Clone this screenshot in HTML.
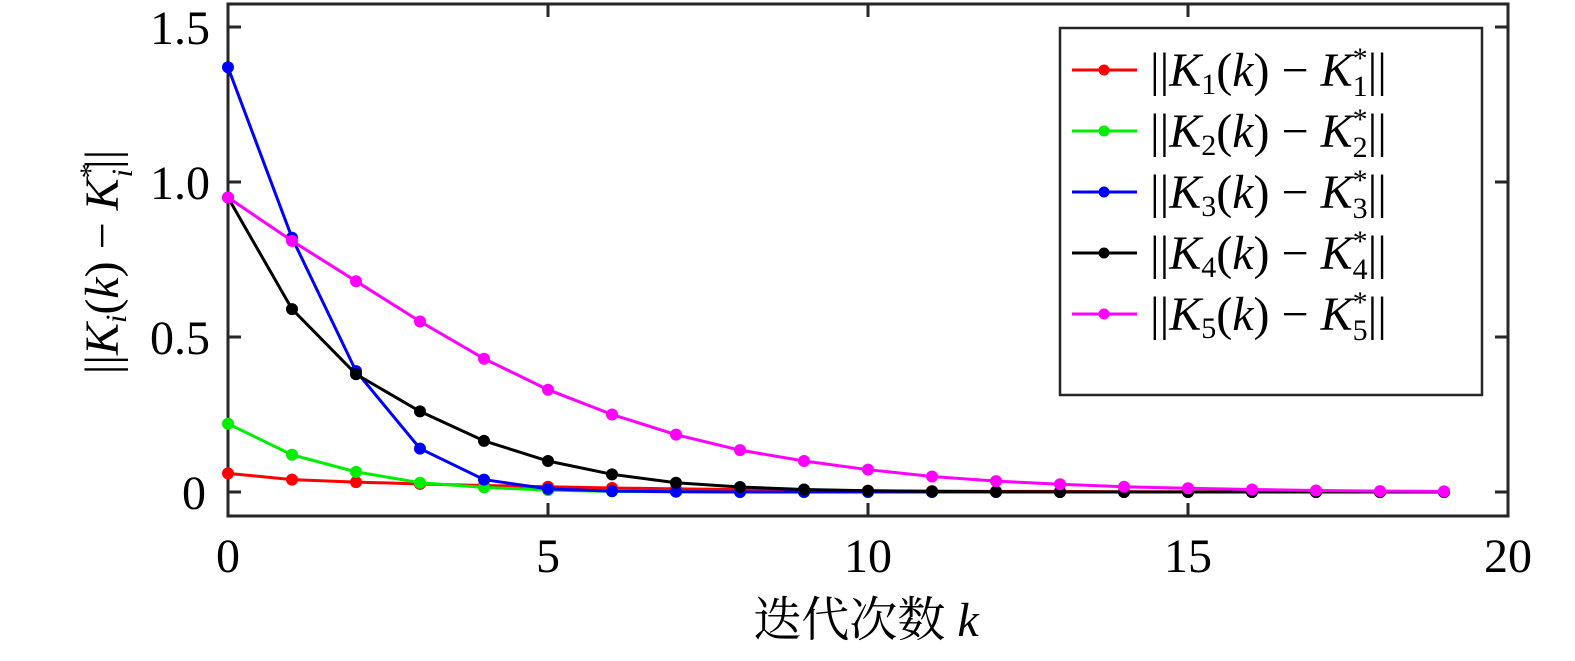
<!DOCTYPE html><html><head><meta charset="utf-8"><style>
body{margin:0;background:#fff;}
svg text{font-family:"Liberation Serif","Noto Serif CJK SC",serif;fill:#000;}
</style></head><body>
<svg id="s" width="1575" height="656" xmlns="http://www.w3.org/2000/svg">
<rect x="228" y="4" width="1280" height="512" fill="none" stroke="#262626" stroke-width="3"/>
<g id="ticks" stroke="#262626" stroke-width="3"></g>
<g font-size="48" text-anchor="end">
<text x="210" y="44">1.5</text><text x="210" y="199">1.0</text><text x="210" y="354">0.5</text><text x="206" y="509">0</text>
</g>
<g font-size="48" text-anchor="middle">
<text x="228" y="572">0</text><text x="548" y="572">5</text><text x="868" y="572">10</text><text x="1188" y="572">15</text><text x="1508" y="572">20</text>
</g>
<text x="866" y="636" font-size="48" text-anchor="middle">迭代次数 <tspan font-style="italic">k</tspan></text>
<text transform="translate(118,262) rotate(-90)" font-size="48" text-anchor="middle">||<tspan font-style="italic">K</tspan><tspan font-size="30" dy="8" font-style="italic">i</tspan><tspan dy="-8">(</tspan><tspan font-style="italic">k</tspan>) − <tspan font-style="italic">K</tspan><tspan font-size="30" dy="-18">*</tspan><tspan font-size="30" dx="-14" dy="32" font-style="italic">i</tspan><tspan dy="-14">||</tspan></text>
<g id="series"></g>
<rect x="1060" y="28" width="422" height="367" fill="#fff" stroke="#262626" stroke-width="2.5"/>
<g id="leg"></g>
</svg>
<script>
var s=document.getElementById('s'),NS='http://www.w3.org/2000/svg';
function el(t,a,p){var e=document.createElementNS(NS,t);for(var k in a)e.setAttribute(k,a[k]);(p||s).appendChild(e);return e;}
var tk=document.getElementById('ticks');
[0,5,10,15,20].forEach(function(v){var x=228+64*v;el('line',{x1:x,x2:x,y1:516,y2:503},tk);el('line',{x1:x,x2:x,y1:4,y2:17},tk);});
[0,0.5,1,1.5].forEach(function(v){var y=492-310*v;el('line',{x1:228,x2:241,y1:y,y2:y},tk);el('line',{x1:1508,x2:1495,y1:y,y2:y},tk);});
var D=[
['#ff0000',[0.06,0.04,0.032,0.026,0.021,0.017,0.013,0.01,0.008,0.006,0.004,0.003,0.002,0.002,0.001,0.001,0.001,0,0,0]],
['#00ee00',[0.22,0.12,0.065,0.03,0.015,0.006,0.002,0.001,0,0,0,0,0,0,0,0,0,0,0,0]],
['#0000ff',[1.37,0.82,0.39,0.14,0.04,0.01,0.003,0.001,0,0,0,0,0,0,0,0,0,0,0,0]],
['#000000',[0.95,0.59,0.38,0.26,0.165,0.1,0.057,0.03,0.016,0.008,0.004,0.002,0.001,0,0,0,0,0,0,0]],
['#ff00ff',[0.95,0.81,0.68,0.55,0.43,0.33,0.25,0.185,0.135,0.1,0.072,0.05,0.035,0.025,0.017,0.012,0.008,0.005,0.003,0.002]]];
var g=document.getElementById('series');
D.forEach(function(d){var pts=d[1].map(function(v,i){return (228+64*i)+','+(492-310*v);});
el('polyline',{points:pts.join(' '),fill:'none',stroke:d[0],'stroke-width':3},g);
pts.forEach(function(p){var q=p.split(',');el('circle',{cx:q[0],cy:q[1],r:6,fill:d[0]},g);});});
var lg=document.getElementById('leg');
D.forEach(function(d,i){var y=70+61*i;
el('line',{x1:1072,x2:1137,y1:y,y2:y,stroke:d[0],'stroke-width':3},lg);
el('circle',{cx:1104,cy:y,r:5.5,fill:d[0]},lg);
var t=el('text',{x:1150,y:y+16,'font-size':48},lg);
t.innerHTML='||<tspan font-style="italic">K</tspan><tspan font-size="30" dy="8">'+(i+1)+'</tspan><tspan dy="-8">(</tspan><tspan font-style="italic">k</tspan>)  −  <tspan font-style="italic">K</tspan><tspan font-size="30" dy="-18">*</tspan><tspan font-size="30" dx="-15" dy="28">'+(i+1)+'</tspan><tspan dy="-10">||</tspan>';});
</script>
</body></html>
